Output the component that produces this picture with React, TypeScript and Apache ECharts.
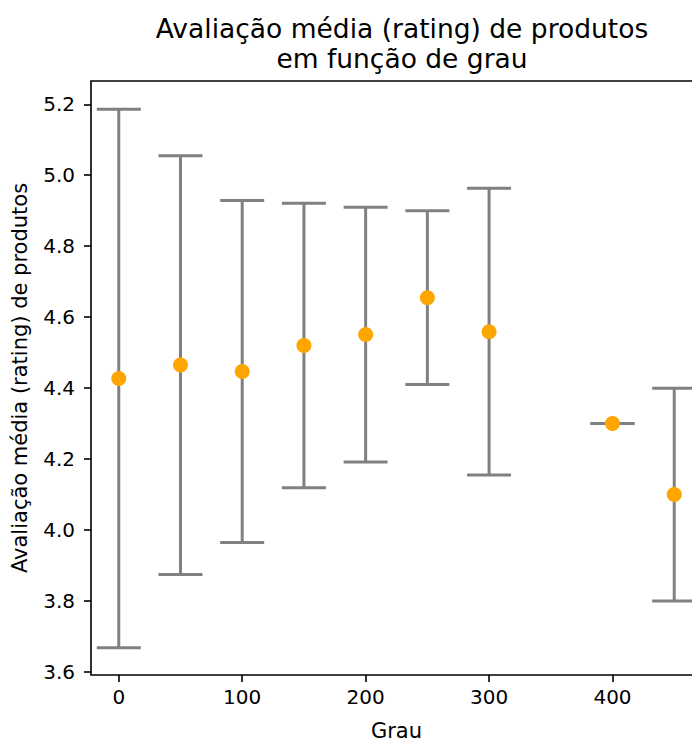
import React, { useEffect, useRef } from "react";
import * as echarts from "echarts";

const grau = [0, 50, 100, 150, 200, 250, 300, 400, 450];
const media = [4.427, 4.465, 4.447, 4.52, 4.551, 4.655, 4.559, 4.3, 4.1];
const desvio = [0.759, 0.59, 0.482, 0.401, 0.359, 0.245, 0.404, 0, 0.3];
const xTicks = [0, 100, 200, 300, 400];
const yTicks = [3.6, 3.8, 4.0, 4.2, 4.4, 4.6, 4.8, 5.0, 5.2];

const FONT = "DejaVu Sans";

export default function App() {
  const ref = useRef<HTMLDivElement>(null);
  useEffect(() => {
    if (!ref.current) return;
    const chart = echarts.init(ref.current, undefined, { renderer: "svg" });
    const errData = grau.map((g, i) => [g, media[i], desvio[i]]);
    const dotData = grau.map((g, i) => [g, media[i]]);
    chart.setOption({
      animation: false,
      backgroundColor: "#fff",
      title: {
        text: "Avaliação média (rating) de produtos\nem função de grau",
        left: 397,
        top: 8,
        textAlign: "center",
        textStyle: {
          fontFamily: FONT,
          fontSize: 26.5,
          lineHeight: 30,
          fontWeight: "normal",
          color: "#000",
        },
      },
      grid: {
        left: 91,
        top: 81,
        width: 611,
        height: 594,
        outerBoundsMode: "none",
        containLabel: false,
        show: true,
        borderColor: "#000",
        borderWidth: 1.6,
        backgroundColor: "transparent",
      },
      xAxis: {
        type: "value",
        min: -22.5,
        max: 472.5,
        name: "Grau",
        nameLocation: "middle",
        nameGap: 45,
        nameTextStyle: { fontFamily: FONT, fontSize: 21, color: "#000" },
        axisLine: { show: false, onZero: false },
        splitLine: { show: false },
        axisTick: {
          show: true,
          length: 7,
          customValues: xTicks,
          lineStyle: { color: "#000", width: 1.6 },
        },
        axisLabel: {
          customValues: xTicks,
          margin: 12,
          fontFamily: FONT,
          fontSize: 20,
          color: "#000",
        },
      },
      yAxis: {
        type: "value",
        min: 3.5915,
        max: 5.2656,
        name: "Avaliação média (rating) de produtos",
        nameLocation: "middle",
        nameRotate: 90,
        nameGap: 61,
        nameTextStyle: { fontFamily: FONT, fontSize: 21, color: "#000" },
        axisLine: { show: false, onZero: false },
        splitLine: { show: false },
        axisTick: {
          show: true,
          length: 7,
          customValues: yTicks,
          lineStyle: { color: "#000", width: 1.6 },
        },
        axisLabel: {
          customValues: yTicks,
          margin: 16,
          fontFamily: FONT,
          fontSize: 20,
          color: "#000",
          formatter: (v: number) => v.toFixed(1),
        },
      },
      series: [
        {
          type: "custom",
          data: errData,
          clip: false,
          renderItem: (params: any, api: any) => {
            const x = api.value(0);
            const y = api.value(1);
            const e = api.value(2);
            const top = api.coord([x, y + e]);
            const bot = api.coord([x, y - e]);
            const hw = 22;
            const style = { stroke: "#808080", lineWidth: 3 };
            return {
              type: "group",
              children: [
                { type: "line", shape: { x1: top[0], y1: top[1], x2: bot[0], y2: bot[1] }, style },
                { type: "line", shape: { x1: top[0] - hw, y1: top[1], x2: top[0] + hw, y2: top[1] }, style },
                { type: "line", shape: { x1: bot[0] - hw, y1: bot[1], x2: bot[0] + hw, y2: bot[1] }, style },
              ],
            };
          },
          z: 2,
        },
        {
          type: "scatter",
          data: dotData,
          symbol: "circle",
          symbolSize: 15,
          itemStyle: { color: "#FFA500", opacity: 1 },
          z: 3,
        },
      ],
    });
    return () => chart.dispose();
  }, []);
  return <div ref={ref} style={{ width: 692, height: 742, position: "absolute", left: 0, top: 0 }} />;
}
